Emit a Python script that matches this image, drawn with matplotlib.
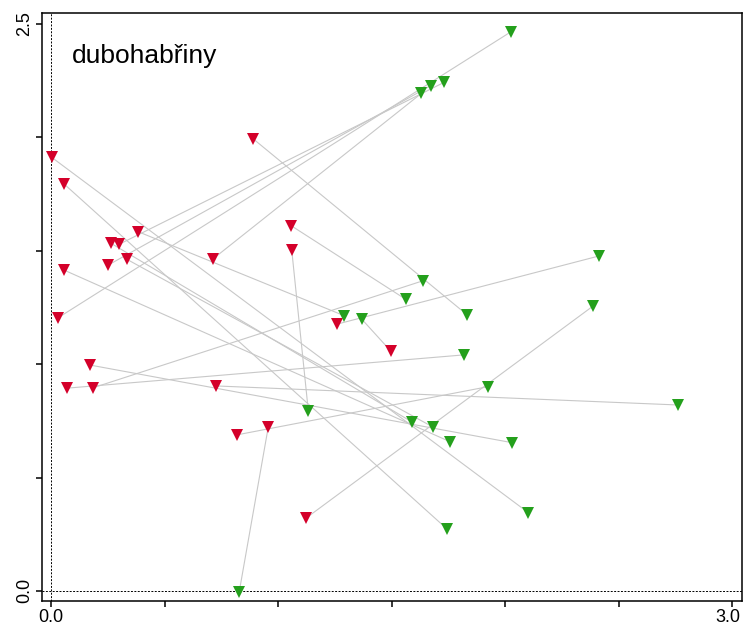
import matplotlib
matplotlib.use('Agg')
import matplotlib.pyplot as plt
from matplotlib.transforms import ScaledTranslation

plt.rcParams['font.family'] = ['Liberation Sans', 'DejaVu Sans']

# pairs: start (red) -> end (green), same index
red_x = [0.003, 0.057, 0.891, 0.384, 0.264, 0.301, 0.333, 0.252, 0.712, 0.057, 0.032,
         0.172, 0.069, 0.186, 0.725, 1.057, 1.060, 1.258, 1.496, 0.818, 0.957, 1.123]
red_y = [1.912, 1.795, 1.993, 1.584, 1.533, 1.529, 1.463, 1.437, 1.463, 1.415, 1.205,
         0.996, 0.894, 0.896, 0.904, 1.611, 1.504, 1.176, 1.058, 0.688, 0.724, 0.321]
green_x = [2.102, 1.745, 1.833, 1.290, 1.588, 1.732, 1.683, 1.672, 1.631, 1.757, 2.026,
           2.029, 1.820, 1.639, 2.760, 1.562, 1.133, 2.413, 1.368, 1.926, 0.829, 2.388]
green_y = [0.345, 0.272, 1.217, 1.214, 0.746, 2.243, 0.722, 2.228, 2.194, 0.658, 2.466,
           0.654, 1.041, 1.368, 0.820, 1.286, 0.795, 1.477, 1.199, 0.901, -0.003, 1.257]

label = 'dubohabřiny'

fig = plt.figure(figsize=(7.43, 6.28), dpi=100)
ax = fig.add_axes([0.0561, 0.0435, 0.942, 0.936])

ax.axvline(0, color='black', linestyle=(0, (2, 1.5)), linewidth=0.7, zorder=1)
ax.axhline(0, color='black', linestyle=(0, (2, 1.5)), linewidth=0.7, zorder=1)

for x1, y1, x2, y2 in zip(red_x, red_y, green_x, green_y):
    ax.plot([x1, x2], [y1, y2], color='#c8c8c8', linewidth=0.8, zorder=2)

ax.plot(red_x, red_y, linestyle='none', marker='v', markersize=9,
        color='#d4002a', markeredgewidth=0, zorder=3)
ax.plot(green_x, green_y, linestyle='none', marker='v', markersize=9,
        color='#24a01c', markeredgewidth=0, zorder=3)

ax.text(0.092, 2.328, label, fontsize=19, va='baseline', ha='left')

ax.set_xlim(-0.041, 3.041)
ax.set_ylim(-0.043, 2.549)
ax.set_xticks([0, 0.5, 1.0, 1.5, 2.0, 2.5, 3.0])
ax.set_xticklabels(['0.0', '', '', '', '', '', '3.0'])
ax.set_yticks([0, 0.5, 1.0, 1.5, 2.0, 2.5])
ax.set_yticklabels(['0.0', '', '', '', '', '2.5'], rotation=90, va='center')
ax.tick_params(direction='out', length=4, width=1.1, labelsize=13, pad=2)
for s in ax.spines.values():
    s.set_linewidth(1.1)

# keep the right-hand "3.0" inside the picture
last = ax.get_xticklabels()[-1]
last.set_transform(last.get_transform() + ScaledTranslation(-4 / 100, 0, fig.dpi_scale_trans))

fig.savefig('out.png', dpi=100)
